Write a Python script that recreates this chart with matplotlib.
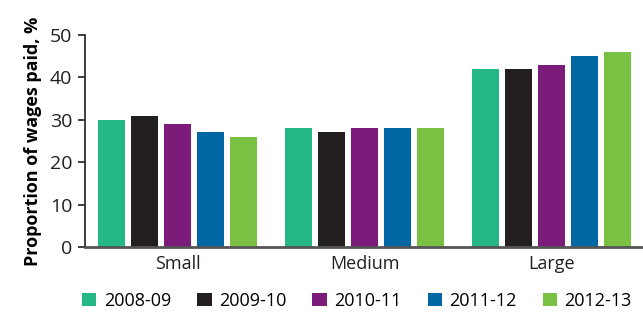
import matplotlib
matplotlib.use("Agg")
import matplotlib.pyplot as plt
import numpy as np

plt.rcParams['font.family'] = ['Open Sans', 'DejaVu Sans']

categories = ["Small", "Medium", "Large"]
years = ["2008-09", "2009-10", "2010-11", "2011-12", "2012-13"]
values = {
    "2008-09": [30, 28, 42],
    "2009-10": [31, 27, 42],
    "2010-11": [29, 28, 43],
    "2011-12": [27, 28, 45],
    "2012-13": [26, 28, 46],
}
colors = ["#26B787", "#231F20", "#7B1C7A", "#0066A4", "#7AC143"]

fig = plt.figure(figsize=(6.43, 3.15), dpi=100)
ax = fig.add_axes([0.132, 0.216, 0.868, 0.673])

x = np.arange(len(categories))
step = 0.1765
width = 0.145
for i, (yr, c) in enumerate(zip(years, colors)):
    ax.bar(x + (i - 2) * step, values[yr], width, color=c, label=yr, zorder=2)

ax.set_xlim(-0.497, 2.487)
ax.set_ylim(0, 50)
ax.set_yticks(range(0, 51, 10))
ax.set_xticks(x)
ax.set_xticklabels(categories)
ax.tick_params(axis='x', length=0, labelsize=13, pad=6, colors='#231F20')
ax.tick_params(axis='y', length=5, width=1.2, labelsize=14, colors='#231F20', pad=4)
for s in ["top", "right"]:
    ax.spines[s].set_visible(False)
ax.spines["left"].set_linewidth(1.2)
ax.spines["left"].set_color('#231F20')
ax.spines["bottom"].set_linewidth(2)
ax.spines["bottom"].set_color('#555555')
ax.spines["bottom"].set_zorder(3)
ax.set_ylabel("Proportion of wages paid, %", fontsize=13, fontweight='bold', labelpad=6)

fig.legend(loc='center', bbox_to_anchor=(0.555, 0.045), ncol=5, frameon=False,
           fontsize=13, handlelength=0.8, handleheight=0.8, handletextpad=0.4,
           columnspacing=1.45, borderpad=0, borderaxespad=0)

fig.savefig("out.png", dpi=100)
